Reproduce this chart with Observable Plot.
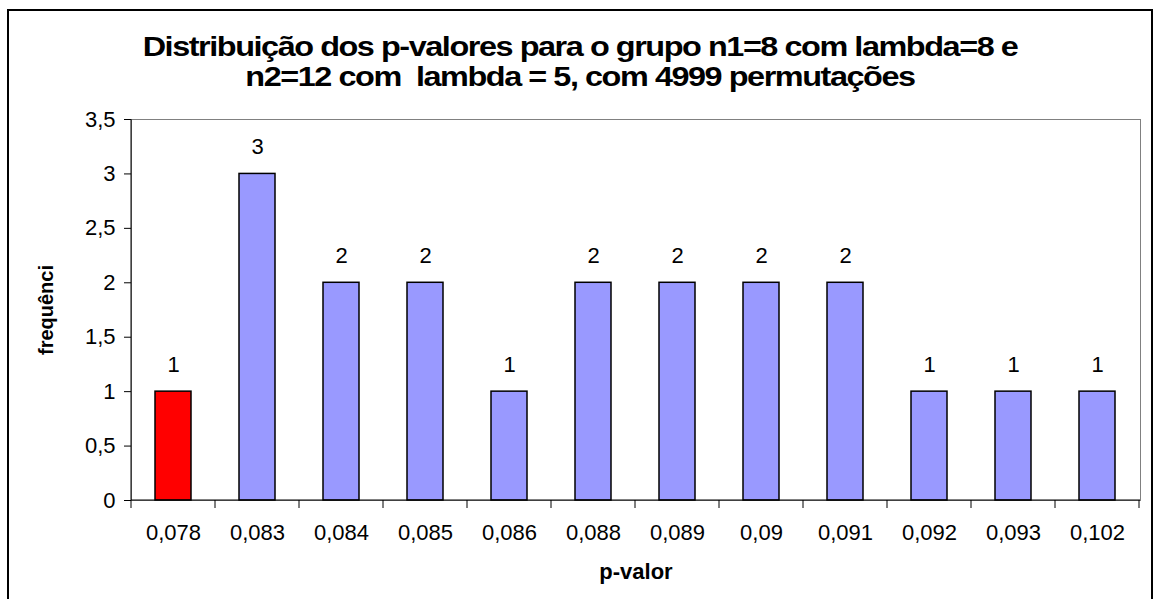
<!DOCTYPE html>
<html>
<head>
<meta charset="utf-8">
<script src="https://cdn.jsdelivr.net/npm/d3@7"></script>
<script src="https://cdn.jsdelivr.net/npm/@observablehq/plot@0.6"></script>
<style>
  html, body { margin: 0; padding: 0; background: #fff; }
  #wrap { position: relative; width: 1158px; height: 599px; overflow: hidden; background: #fff; }
  #box { position: absolute; left: 7px; top: 9px; width: 1146px; height: 620px; border: 2px solid #000; box-sizing: border-box; }
  #title { position: absolute; left: 7px; top: 32px; width: 1146px; text-align: center;
    font-family: "Liberation Sans", Arial, sans-serif; font-weight: bold; font-size: 27px;
    line-height: 30px; letter-spacing: -1.2px; color: #000;
    transform: scaleX(1.2); transform-origin: 573px 0; }
  #chart { position: absolute; left: 0; top: 0; }
</style>
</head>
<body>
<div id="wrap">
  <div id="box"></div>
  <div id="title">Distribuição dos p-valores para o grupo n1=8 com lambda=8 e<br>n2=12 com&nbsp; lambda = 5, com 4999 permutações</div>
  <div id="chart"></div>
</div>
<script>
const pValues = ["0,078", "0,083", "0,084", "0,085", "0,086", "0,088", "0,089", "0,09", "0,091", "0,092", "0,093", "0,102"];
const frequencies = [1, 3, 2, 2, 1, 2, 2, 2, 2, 1, 1, 1];
const highlighted = ["0,078"];
const yTicks = [0, 0.5, 1, 1.5, 2, 2.5, 3, 3.5];
const xLabel = "p-valor";
const yLabel = "frequênci";

const data = pValues.map((p, i) => ({p, f: frequencies[i], color: highlighted.includes(p) ? "#FF0000" : "#9999FF"}));

function axisDecor(index, scales, values, dimensions) {
  const x = scales.x;
  const bw = x.bandwidth(), st = x.step();
  const gap = (st - bw) / 2;
  const {width, height, marginLeft, marginRight, marginTop, marginBottom} = dimensions;
  const y0 = height - marginBottom;
  const g = d3.create("svg:g");
  const bounds = [x(pValues[0]) - gap, ...pValues.map(c => x(c) + bw + gap)];
  for (const bx of bounds) {
    g.append("line").attr("x1", bx).attr("x2", bx).attr("y1", y0).attr("y2", y0 + 8)
      .attr("stroke", "#000").attr("stroke-width", 1);
  }
  g.append("line").attr("x1", marginLeft).attr("x2", marginLeft).attr("y1", marginTop).attr("y2", y0)
    .attr("stroke", "#000").attr("stroke-width", 1);
  g.append("line").attr("x1", marginLeft).attr("x2", width - marginRight).attr("y1", y0).attr("y2", y0)
    .attr("stroke", "#000").attr("stroke-width", 1);
  return g.node();
}

const chart = Plot.plot({
  width: 1158,
  height: 599,
  marginLeft: 131,
  marginRight: 18,
  marginTop: 119,
  marginBottom: 99,
  style: {fontFamily: "'Liberation Sans', Arial, sans-serif", fontSize: "22px", color: "#000", background: "transparent", overflow: "visible"},
  x: {type: "band", domain: pValues, paddingInner: 0.57, paddingOuter: 0.285, label: null},
  y: {domain: [0, 3.5], label: null},
  marks: [
    Plot.frame({stroke: "#808080", strokeWidth: 1}),
    Plot.barY(data, {x: "p", y: "f", fill: "color", stroke: "#000", strokeWidth: 1.5}),
    Plot.text(data, {x: "p", y: "f", text: d => String(d.f), dy: -27, fontSize: 22, fill: "#000"}),
    Plot.axisX({tickSize: 0, tickPadding: 24, fontSize: 22, style: {letterSpacing: "1.2px"}, label: null}),
    Plot.axisY({ticks: yTicks, tickSize: 7, tickPadding: 9, fontSize: 22, style: {letterSpacing: "0.8px"}, tickFormat: d => String(d).replace(".", ","), label: null}),
    axisDecor,
    Plot.text([xLabel], {text: d => d, frameAnchor: "bottom", dy: 78, fontWeight: "bold", fontSize: 22, style: {letterSpacing: "1px"}, fill: "#000"}),
    Plot.text([yLabel], {text: d => d, frameAnchor: "left", textAnchor: "middle", dx: -85, rotate: -90, fontWeight: "bold", fontSize: 20, fill: "#000"})
  ]
});
document.getElementById("chart").appendChild(chart);
</script>
</body>
</html>
